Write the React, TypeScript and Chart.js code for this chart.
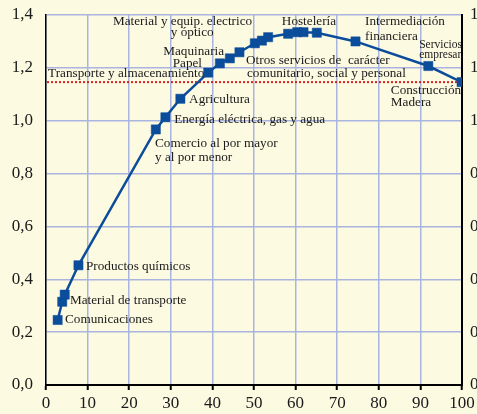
import React, { useEffect, useRef } from "react";
import { Chart, registerables } from "chart.js";

Chart.register(...registerables);

// Data: % of employment (cumulative) vs relative index
const xValues = [2.8, 3.9, 4.5, 7.8, 26.4, 28.7, 32.3, 39.0, 41.8, 44.2, 46.5, 50.2, 51.9, 53.4, 58.2, 60.4, 61.9, 65.1, 74.4, 91.9, 99.9];
const yValues = [0.246, 0.315, 0.342, 0.453, 0.967, 1.013, 1.083, 1.182, 1.217, 1.236, 1.259, 1.293, 1.303, 1.316, 1.329, 1.335, 1.335, 1.333, 1.300, 1.207, 1.146];
const referenceLine = 1.146;
const xTicks = [0, 10, 20, 30, 40, 50, 60, 70, 80, 90, 100];
const yTicks = [0, 0.2, 0.4, 0.6, 0.8, 1.0, 1.2, 1.4];

// Sector labels (text + anchor in data units)
const labelTexts = [
  "Comunicaciones", "Material de transporte", "Productos químicos",
  "Comercio al por mayor", "y al por menor", "Energía eléctrica, gas y agua",
  "Agricultura", "Transporte y almacenamiento", "Papel", "Maquinaria",
  "Material y equip. electrico", "y óptico", "Hostelería", "Intermediación",
  "financiera", "Servicios", "empresar.", "Otros servicios de  carácter",
  "comunitario, social y personal", "Construcción", "Madera",
];
const labelX = [4.57, 5.77, 9.62, 26.2, 26.2, 30.8, 34.4, 0.5, 37.5, 42.8, 16.1, 30.0, 56.7, 76.7, 76.7, 89.7, 89.7, 48.1, 48.3, 82.9, 82.9];
const labelY = [0.246, 0.318, 0.45, 0.912, 0.859, 1.003, 1.08, 1.177, 1.218, 1.26, 1.375, 1.332, 1.375, 1.375, 1.319, 1.286, 1.249, 1.226, 1.18, 1.114, 1.067];
const labelAlign = ["left", "left", "left", "left", "left", "left", "left", "left", "right", "right", "left", "left", "left", "left", "left", "left", "left", "left", "left", "left", "left"];
const labelSmall = [false, false, false, false, false, false, false, false, false, false, false, false, false, false, false, true, true, false, false, false, false];

const BG = "rgb(253,250,226)";
const GRID = "rgb(170,180,224)";
const BLUE = "#0b4d9b";
const TEXT = "#1a1a1a";
const SERIF = "'Liberation Serif', 'DejaVu Serif', serif";

const fmt = (v: number) => Number(v).toFixed(1).replace(".", ",");

export default function App() {
  const ref = useRef<HTMLCanvasElement | null>(null);

  useEffect(() => {
    if (!ref.current) return;
    const bgPlugin = {
      id: "bg",
      beforeDraw(chart: any) {
        const ctx = chart.ctx;
        ctx.save();
        ctx.fillStyle = BG;
        ctx.fillRect(0, 0, chart.width, chart.height);
        ctx.restore();
      },
    };
    const annPlugin = {
      id: "ann",
      beforeDatasetsDraw(chart: any) {
        const { ctx, chartArea, scales } = chart;
        const y = scales.y.getPixelForValue(referenceLine);
        ctx.save();
        ctx.strokeStyle = "#d42020";
        ctx.lineWidth = 2;
        ctx.setLineDash([2, 2]);
        ctx.beginPath();
        ctx.moveTo(chartArea.left + 1, y);
        ctx.lineTo(chartArea.right, y);
        ctx.stroke();
        ctx.restore();
      },
      afterDatasetsDraw(chart: any) {
        const { ctx, scales, chartArea } = chart;
        ctx.save();
        ctx.fillStyle = TEXT;
        ctx.textBaseline = "middle";
        // y-axis tick labels (left and right)
        ctx.font = `17px ${SERIF}`;
        yTicks.forEach((v) => {
          const py = scales.y.getPixelForValue(v);
          ctx.textAlign = "right";
          ctx.fillText(fmt(v), chartArea.left - 13, py);
          ctx.textAlign = "left";
          ctx.fillText(fmt(v), chartArea.right + 8, py);
        });
        labelTexts.forEach((t, i) => {
          ctx.font = `${labelSmall[i] ? 11.5 : 13.2}px ${SERIF}`;
          ctx.textAlign = labelAlign[i] as CanvasTextAlign;
          ctx.fillText(t, scales.x.getPixelForValue(labelX[i]), scales.y.getPixelForValue(labelY[i]));
        });
        ctx.restore();
      },
    };

    const tickFont = { family: SERIF, size: 17 };
    const chart = new Chart(ref.current, {
      type: "line",
      data: {
        datasets: [
          {
            data: xValues.map((x, i) => ({ x, y: yValues[i] })),
            borderColor: BLUE,
            borderWidth: 2.5,
            pointStyle: "rect",
            pointRadius: 6.5,
            pointBackgroundColor: BLUE,
            pointBorderColor: BLUE,
            pointBorderWidth: 0.5,
            tension: 0,
          },
        ],
      },
      options: {
        responsive: false,
        animation: false,
        layout: { padding: { top: 15, left: 0, right: 0, bottom: 0 } },
        plugins: { legend: { display: false }, tooltip: { enabled: false } },
        scales: {
          x: {
            type: "linear",
            min: 0,
            max: 100,
            afterBuildTicks: (s: any) => { s.ticks = xTicks.map((v) => ({ value: v })); },
            ticks: { font: tickFont, color: TEXT, padding: 3, maxRotation: 0, autoSkip: false, callback: (v: any) => String(v) },
            grid: { color: GRID, lineWidth: 1.5, tickLength: 5, tickColor: "#000", tickWidth: 2 },
            border: { color: "#000", width: 2 },
            afterFit: (s: any) => { s.height = 29; },
          },
          y: {
            type: "linear",
            position: "left",
            min: 0,
            max: 1.4,
            afterBuildTicks: (s: any) => { s.ticks = yTicks.map((v) => ({ value: v })); },
            ticks: { display: false },
            grid: { color: GRID, lineWidth: 1.5, drawTicks: false },
            border: { color: "#000", width: 1.5 },
            afterFit: (s: any) => { s.width = 46; },
          },
          y2: {
            type: "linear",
            position: "right",
            min: 0,
            max: 1.4,
            afterBuildTicks: (s: any) => { s.ticks = yTicks.map((v) => ({ value: v })); },
            ticks: { display: false },
            grid: { drawOnChartArea: false, drawTicks: false },
            border: { color: "#000", width: 2 },
            afterFit: (s: any) => { s.width = 38; },
          },
        },
      } as any,
      plugins: [bgPlugin, annPlugin],
    });
    return () => chart.destroy();
  }, []);

  return (
    <div style={{ position: "fixed", left: 0, top: 0, width: 477, height: 414, overflow: "hidden", background: BG }}>
      <canvas ref={ref} width={500} height={414} style={{ width: 500, height: 414, display: "block" }} />
    </div>
  );
}
